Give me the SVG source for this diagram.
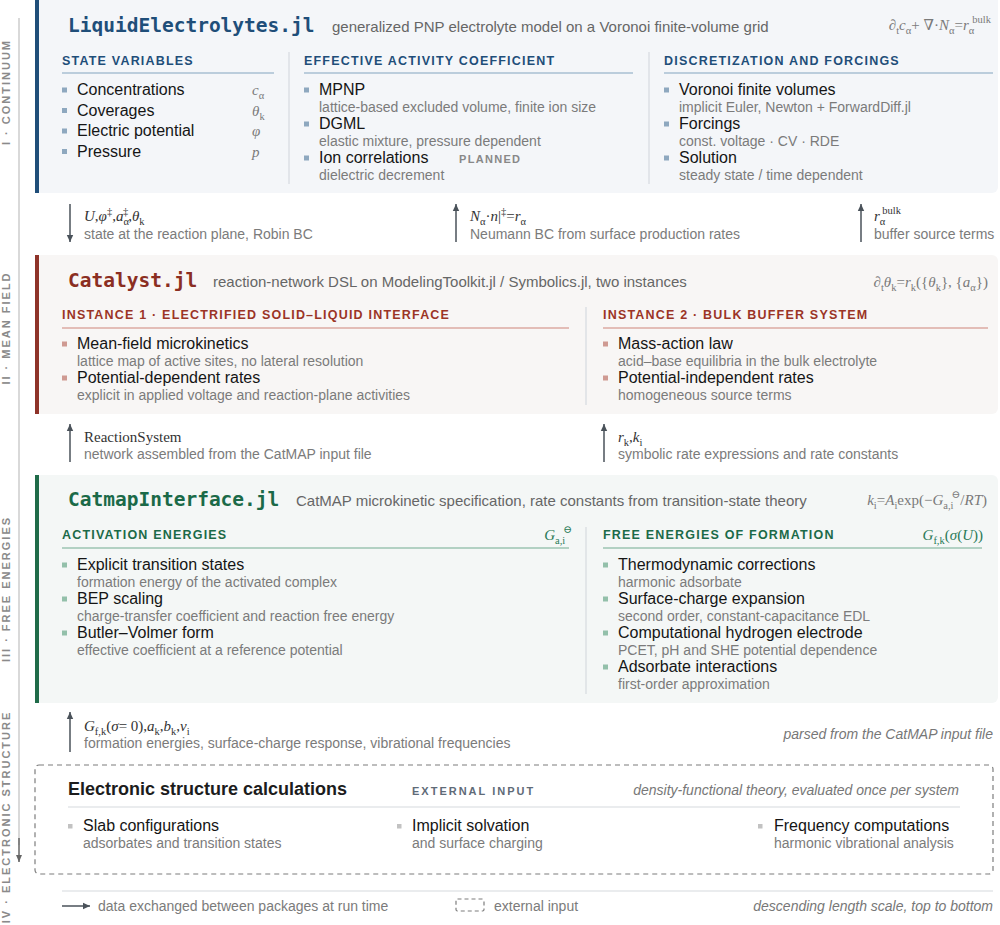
<svg xmlns="http://www.w3.org/2000/svg" width="1000" height="925" viewBox="0 0 1000 925">
<style>
text{font-family:"Liberation Sans",Arial,sans-serif}
.ttl{font-family:"DejaVu Sans Mono",monospace;font-weight:bold;font-size:19.5px}
.sub{font-size:15px;fill:#666}
.hd{font-weight:bold;font-size:12.5px;letter-spacing:1.2px}
.it{font-size:16px;fill:#151515}
.ds{font-size:14px;fill:#7b7b7b}
.eq{font-family:"Liberation Serif","DejaVu Serif",serif;font-size:15px;fill:#7a7a7a}
.eqd{fill:#333}
.i{font-style:italic}
.s{font-size:10.5px;font-style:normal}
.vl{font-weight:bold;font-size:11px;letter-spacing:2px;fill:#8a8a8a}
.tag{font-weight:bold;font-size:11px;letter-spacing:1.3px;fill:#888}
.note{font-size:14px;fill:#777;font-style:italic}
.div{stroke:#d6dadf;stroke-width:1.2}
.bb{fill:#8ea8bf}.br{fill:#cf9a92}.bg{fill:#93c0aa}.bk{fill:#c2c2c2}
.conn{stroke:#4a525a;stroke-width:1.5;fill:none}
</style>
<defs>
<marker id="ah" markerUnits="userSpaceOnUse" markerWidth="8" markerHeight="8" refX="7" refY="4" orient="auto">
<path d="M0,0.8 L7,4 L0,7.2 z" fill="#4a525a"/>
</marker>
<marker id="ahg" markerUnits="userSpaceOnUse" markerWidth="8" markerHeight="8" refX="7" refY="4" orient="auto">
<path d="M0,1 L7,4 L0,7 z" fill="#666"/>
</marker>
</defs>
<rect width="1000" height="925" fill="#ffffff"/>

<g id="scale-axis">
<line x1="19" y1="18" x2="19" y2="845" stroke="#cdcdcd" stroke-width="1.5"/>
<line x1="19" y1="838" x2="19" y2="862" stroke="#666" stroke-width="1.5" marker-end="url(#ahg)"/>
<text class="vl" transform="translate(9.5,92) rotate(-90)" text-anchor="middle">I · CONTINUUM</text>
<text class="vl" transform="translate(9.5,328) rotate(-90)" text-anchor="middle">II · MEAN FIELD</text>
<text class="vl" transform="translate(9.5,589) rotate(-90)" text-anchor="middle">III · FREE ENERGIES</text>
<text class="vl" transform="translate(9.5,817) rotate(-90)" text-anchor="middle">IV · ELECTRONIC STRUCTURE</text>
</g>

<g id="liquid-electrolytes">
<rect x="35" y="-6" width="963" height="199" rx="6" fill="#f4f6f9"/>
<rect x="35" y="-6" width="4" height="199" fill="#1f4e79"/>
<text class="ttl" x="68" y="32" fill="#1f4e79">LiquidElectrolytes.jl</text>
<text class="sub" x="332" y="32">generalized PNP electrolyte model on a Voronoi finite-volume grid</text>
<text class="eq" x="991" y="30" text-anchor="end">∂<tspan class="s" dy="4">t</tspan><tspan class="i" dy="-4">c</tspan><tspan class="s" dy="4">α</tspan><tspan dy="-4">+ ∇·</tspan><tspan class="i">N</tspan><tspan class="s" dy="4">α</tspan><tspan dy="-4">=</tspan><tspan class="i">r</tspan><tspan class="s" dy="4">α</tspan><tspan class="s" dx="-2" dy="-11">bulk</tspan></text>
<text class="hd" x="62" y="65" fill="#1f4e79">STATE VARIABLES</text>
<line x1="62" y1="73" x2="274" y2="73" stroke="#a9bfd2" stroke-width="1.3"/>
<text class="hd" x="304" y="65" fill="#1f4e79">EFFECTIVE ACTIVITY COEFFICIENT</text>
<line x1="304" y1="73" x2="633" y2="73" stroke="#a9bfd2" stroke-width="1.3"/>
<text class="hd" x="664" y="65" fill="#1f4e79">DISCRETIZATION AND FORCINGS</text>
<line x1="664" y1="73" x2="993" y2="73" stroke="#a9bfd2" stroke-width="1.3"/>
<line class="div" x1="289" y1="52" x2="289" y2="184"/>
<line class="div" x1="649" y1="52" x2="649" y2="184"/>
<rect class="bb" x="62" y="87.5" width="5" height="5"/>
<text class="it" x="77" y="95">Concentrations</text>
<text class="eq i" x="252" y="95">c<tspan class="s" dy="4">α</tspan></text>
<rect class="bb" x="62" y="108" width="5" height="5"/>
<text class="it" x="77" y="115.5">Coverages</text>
<text class="eq i" x="252" y="115.5">θ<tspan class="s" dy="4">k</tspan></text>
<rect class="bb" x="62" y="128.5" width="5" height="5"/>
<text class="it" x="77" y="136">Electric potential</text>
<text class="eq i" x="252" y="136">φ</text>
<rect class="bb" x="62" y="149" width="5" height="5"/>
<text class="it" x="77" y="156.5">Pressure</text>
<text class="eq i" x="252" y="156.5">p</text>
<rect class="bb" x="304" y="87.5" width="5" height="5"/>
<text class="it" x="319" y="95">MPNP</text>
<text class="ds" x="319" y="112">lattice-based excluded volume, finite ion size</text>
<rect class="bb" x="304" y="121.5" width="5" height="5"/>
<text class="it" x="319" y="129">DGML</text>
<text class="ds" x="319" y="146">elastic mixture, pressure dependent</text>
<rect class="bb" x="304" y="155.5" width="5" height="5"/>
<text class="it" x="319" y="163">Ion correlations</text>
<text class="tag" x="459" y="163">PLANNED</text>
<text class="ds" x="319" y="180">dielectric decrement</text>
<rect class="bb" x="664" y="87.5" width="5" height="5"/>
<text class="it" x="679" y="95">Voronoi finite volumes</text>
<text class="ds" x="679" y="112">implicit Euler, Newton + ForwardDiff.jl</text>
<rect class="bb" x="664" y="121.5" width="5" height="5"/>
<text class="it" x="679" y="129">Forcings</text>
<text class="ds" x="679" y="146">const. voltage · CV · RDE</text>
<rect class="bb" x="664" y="155.5" width="5" height="5"/>
<text class="it" x="679" y="163">Solution</text>
<text class="ds" x="679" y="180">steady state / time dependent</text>
</g>

<g id="catalyst">
<rect x="35" y="255" width="963" height="159" rx="6" fill="#f8f6f5"/>
<rect x="35" y="255" width="4" height="159" fill="#8e3329"/>
<text class="ttl" x="68" y="287" fill="#8b2e22">Catalyst.jl</text>
<text class="sub" x="213" y="287">reaction-network DSL on ModelingToolkit.jl / Symbolics.jl, two instances</text>
<text class="eq" x="988" y="287" text-anchor="end">∂<tspan class="s" dy="4">t</tspan><tspan class="i" dy="-4">θ</tspan><tspan class="s" dy="4">k</tspan><tspan dy="-4">=</tspan><tspan class="i">r</tspan><tspan class="s" dy="4">k</tspan><tspan dy="-4">({</tspan><tspan class="i">θ</tspan><tspan class="s" dy="4">k</tspan><tspan dy="-4">}, {</tspan><tspan class="i">a</tspan><tspan class="s" dy="4">α</tspan><tspan dy="-4">})</tspan></text>
<text class="hd" x="62" y="319" fill="#9b3426">INSTANCE 1 · ELECTRIFIED SOLID–LIQUID INTERFACE</text>
<line x1="62" y1="328" x2="569" y2="328" stroke="#dcaaa2" stroke-width="1.3"/>
<text class="hd" x="603" y="319" fill="#9b3426">INSTANCE 2 · BULK BUFFER SYSTEM</text>
<line x1="603" y1="328" x2="988" y2="328" stroke="#dcaaa2" stroke-width="1.3"/>
<line class="div" x1="586" y1="307" x2="586" y2="405"/>
<rect class="br" x="62" y="341.5" width="5" height="5"/>
<text class="it" x="77" y="349">Mean-field microkinetics</text>
<text class="ds" x="77" y="366">lattice map of active sites, no lateral resolution</text>
<rect class="br" x="62" y="375.5" width="5" height="5"/>
<text class="it" x="77" y="383">Potential-dependent rates</text>
<text class="ds" x="77" y="400">explicit in applied voltage and reaction-plane activities</text>
<rect class="br" x="603" y="341.5" width="5" height="5"/>
<text class="it" x="618" y="349">Mass-action law</text>
<text class="ds" x="618" y="366">acid–base equilibria in the bulk electrolyte</text>
<rect class="br" x="603" y="375.5" width="5" height="5"/>
<text class="it" x="618" y="383">Potential-independent rates</text>
<text class="ds" x="618" y="400">homogeneous source terms</text>
</g>

<g id="catmap-interface">
<rect x="35" y="475" width="963" height="228" rx="6" fill="#f4f7f6"/>
<rect x="35" y="475" width="4" height="228" fill="#1f6b49"/>
<text class="ttl" x="68" y="506" fill="#1b6a48">CatmapInterface.jl</text>
<text class="sub" x="296" y="506">CatMAP microkinetic specification, rate constants from transition-state theory</text>
<text class="eq" x="987" y="505" text-anchor="end"><tspan class="i">k</tspan><tspan class="s" dy="4">i</tspan><tspan dy="-4">=</tspan><tspan class="i">A</tspan><tspan class="s" dy="4">i</tspan><tspan dy="-4">exp(−</tspan><tspan class="i">G</tspan><tspan class="s" dy="4">a,i</tspan><tspan class="s" dx="-2" dy="-11">⊖</tspan><tspan dy="7">/</tspan><tspan class="i">RT</tspan><tspan>)</tspan></text>
<text class="hd" x="62" y="539" fill="#1b6a48">ACTIVATION ENERGIES</text>
<text class="eq" x="572" y="540" text-anchor="end" style="fill:#2a7a56"><tspan class="i">G</tspan><tspan class="s" dy="4">a,i</tspan><tspan class="s" dx="-2" dy="-11">⊖</tspan></text>
<line x1="62" y1="548" x2="569" y2="548" stroke="#9cc5b2" stroke-width="1.3"/>
<text class="hd" x="603" y="539" fill="#1b6a48">FREE ENERGIES OF FORMATION</text>
<text class="eq" x="983" y="540" text-anchor="end" style="fill:#2a7a56"><tspan class="i">G</tspan><tspan class="s" dy="4">f,k</tspan><tspan dy="-4">(</tspan><tspan class="i">σ</tspan><tspan>(</tspan><tspan class="i">U</tspan><tspan>))</tspan></text>
<line x1="603" y1="548" x2="982" y2="548" stroke="#9cc5b2" stroke-width="1.3"/>
<line class="div" x1="586" y1="527" x2="586" y2="694"/>
<rect class="bg" x="62" y="562.5" width="5" height="5"/>
<text class="it" x="77" y="570">Explicit transition states</text>
<text class="ds" x="77" y="587">formation energy of the activated complex</text>
<rect class="bg" x="62" y="596.5" width="5" height="5"/>
<text class="it" x="77" y="604">BEP scaling</text>
<text class="ds" x="77" y="621">charge-transfer coefficient and reaction free energy</text>
<rect class="bg" x="62" y="630.5" width="5" height="5"/>
<text class="it" x="77" y="638">Butler–Volmer form</text>
<text class="ds" x="77" y="655">effective coefficient at a reference potential</text>
<rect class="bg" x="603" y="562.5" width="5" height="5"/>
<text class="it" x="618" y="570">Thermodynamic corrections</text>
<text class="ds" x="618" y="587">harmonic adsorbate</text>
<rect class="bg" x="603" y="596.5" width="5" height="5"/>
<text class="it" x="618" y="604">Surface-charge expansion</text>
<text class="ds" x="618" y="621">second order, constant-capacitance EDL</text>
<rect class="bg" x="603" y="630.5" width="5" height="5"/>
<text class="it" x="618" y="638">Computational hydrogen electrode</text>
<text class="ds" x="618" y="655">PCET, pH and SHE potential dependence</text>
<rect class="bg" x="603" y="664.5" width="5" height="5"/>
<text class="it" x="618" y="672">Adsorbate interactions</text>
<text class="ds" x="618" y="689">first-order approximation</text>
</g>

<g id="electronic-structure">
<rect x="35" y="765" width="958" height="109" rx="4" fill="none" stroke="#7d7d7d" stroke-width="1.2" stroke-dasharray="5,4"/>
<text x="68" y="795" style="font-size:18px;font-weight:bold;fill:#1c1c1c">Electronic structure calculations</text>
<text x="412" y="795" style="font-size:11px;font-weight:bold;letter-spacing:2px;fill:#5f6b78">EXTERNAL INPUT</text>
<text class="note" x="959" y="795" text-anchor="end">density-functional theory, evaluated once per system</text>
<line x1="68" y1="807" x2="960" y2="807" stroke="#d6d9dd" stroke-width="1.2"/>
<rect class="bk" x="68" y="824" width="4.5" height="4.5"/>
<text class="it" x="83" y="831">Slab configurations</text>
<text class="ds" x="83" y="848">adsorbates and transition states</text>
<rect class="bk" x="397" y="824" width="4.5" height="4.5"/>
<text class="it" x="412" y="831">Implicit solvation</text>
<text class="ds" x="412" y="848">and surface charging</text>
<rect class="bk" x="758" y="824" width="4.5" height="4.5"/>
<text class="it" x="774" y="831">Frequency computations</text>
<text class="ds" x="774" y="848">harmonic vibrational analysis</text>
</g>

<g id="connectors">
<line class="conn" x1="70" y1="204" x2="70" y2="242" marker-end="url(#ah)"/>
<line class="conn" x1="456" y1="242" x2="456" y2="204" marker-end="url(#ah)"/>
<line class="conn" x1="861" y1="242" x2="861" y2="204" marker-end="url(#ah)"/>
<line class="conn" x1="70" y1="462" x2="70" y2="424" marker-end="url(#ah)"/>
<line class="conn" x1="604" y1="462" x2="604" y2="424" marker-end="url(#ah)"/>
<line class="conn" x1="70" y1="752" x2="70" y2="712" marker-end="url(#ah)"/>
</g>

<g id="connector-labels">
<text class="eq eqd" x="84" y="221"><tspan class="i">U</tspan><tspan>,</tspan><tspan class="i">φ</tspan><tspan class="s" dy="-6">‡</tspan><tspan dy="6">,</tspan><tspan class="i">a</tspan><tspan class="s" dy="4">α</tspan><tspan class="s" dx="-6" dy="-10">‡</tspan><tspan dy="6">,</tspan><tspan class="i">θ</tspan><tspan class="s" dy="4">k</tspan></text>
<text class="ds" x="84" y="239">state at the reaction plane, Robin BC</text>
<text class="eq eqd" x="470" y="221"><tspan class="i">N</tspan><tspan class="s" dy="4">α</tspan><tspan dy="-4">·</tspan><tspan class="i">n</tspan><tspan>|</tspan><tspan class="s" dy="-6">‡</tspan><tspan dy="6">=</tspan><tspan class="i">r</tspan><tspan class="s" dy="4">α</tspan></text>
<text class="ds" x="470" y="239">Neumann BC from surface production rates</text>
<text class="eq eqd" x="874" y="221"><tspan class="i">r</tspan><tspan class="s" dy="4">α</tspan><tspan class="s" dx="-3" dy="-11">bulk</tspan></text>
<text class="ds" x="874" y="239">buffer source terms</text>
<text class="eq eqd" x="84" y="442">ReactionSystem</text>
<text class="ds" x="84" y="459">network assembled from the CatMAP input file</text>
<text class="eq eqd" x="618" y="442"><tspan class="i">r</tspan><tspan class="s" dy="4">k</tspan><tspan dy="-4">,</tspan><tspan class="i">k</tspan><tspan class="s" dy="4">i</tspan></text>
<text class="ds" x="618" y="459">symbolic rate expressions and rate constants</text>
<text class="eq eqd" x="84" y="731"><tspan class="i">G</tspan><tspan class="s" dy="4">f,k</tspan><tspan dy="-4">(</tspan><tspan class="i">σ</tspan><tspan>= 0),</tspan><tspan class="i">a</tspan><tspan class="s" dy="4">k</tspan><tspan dy="-4">,</tspan><tspan class="i">b</tspan><tspan class="s" dy="4">k</tspan><tspan dy="-4">,</tspan><tspan class="i">v</tspan><tspan class="s" dy="4">i</tspan></text>
<text class="ds" x="84" y="748">formation energies, surface-charge response, vibrational frequencies</text>
<text class="note" x="993" y="739" text-anchor="end">parsed from the CatMAP input file</text>
</g>

<g id="legend">
<line x1="62" y1="891" x2="993" y2="891" stroke="#d6d9dd" stroke-width="1.2"/>
<line class="conn" x1="62" y1="906" x2="90" y2="906" marker-end="url(#ah)"/>
<text class="ds" x="98" y="911">data exchanged between packages at run time</text>
<rect x="456" y="899" width="28" height="12" rx="1.5" fill="none" stroke="#7d7d7d" stroke-width="1.2" stroke-dasharray="4,3"/>
<text class="ds" x="494" y="911">external input</text>
<text class="note" x="993" y="911" text-anchor="end">descending length scale, top to bottom</text>
</g>
</svg>
